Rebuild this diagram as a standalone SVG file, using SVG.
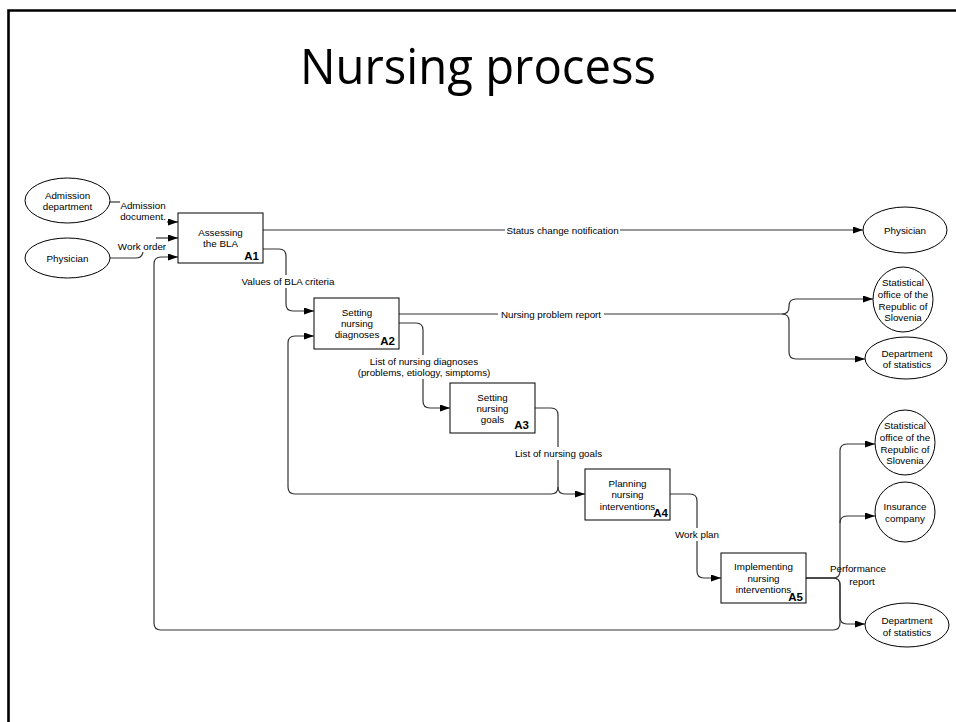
<svg xmlns="http://www.w3.org/2000/svg" width="956" height="722" viewBox="0 0 956 722">
<style>
.t{font-family:"Liberation Sans",Arial,sans-serif;font-size:9.8px;fill:#000;text-anchor:middle}
.id{font-family:"Liberation Sans",Arial,sans-serif;font-size:11.5px;font-weight:bold;fill:#000;text-anchor:end}
.box{fill:#fff;stroke:#000;stroke-width:1}
.ell{fill:#fff;stroke:#000;stroke-width:1}
.c{fill:none;stroke:#333;stroke-width:1.2}
.a{marker-end:url(#arr)}
.bg{fill:#fff}
</style>
<defs>
<marker id="arr" markerUnits="userSpaceOnUse" markerWidth="10" markerHeight="7" refX="10" refY="3.5" orient="auto">
<path d="M0,0 L10,3.5 L0,7 z" fill="#000"/>
</marker>
</defs>
<rect width="956" height="722" fill="#fff"/>
<path d="M8.5,722 V10.5 H956" fill="none" stroke="#000" stroke-width="2.6"/>
<text x="478" y="84" font-family="Open Sans,Lato,sans-serif" font-size="50" text-anchor="middle" textLength="356" lengthAdjust="spacingAndGlyphs">Nursing process</text>

<g id="connectors">
<path class="c" d="M110,202 H120"/>
<path class="c a" d="M167,222 H178"/>
<path class="c" d="M110,258 H136 Q142,258 143,252"/>
<path class="c a" d="M156,238 H178"/>
<path class="c a" d="M263,230 H863"/>
<path class="c a" d="M263,249 H279 Q286,249 286,256 V304 Q286,311 293,311 H314"/>
<path class="c a" d="M399,314 H782 Q789,314 789,307 V306 Q789,299 796,299 H873"/>
<path class="c a" d="M782,314 Q789,314 789,321 V352 Q789,359 796,359 H865"/>
<path class="c a" d="M399,323 H416 Q423,323 423,330 V401 Q423,408 430,408 H450"/>
<path class="c a" d="M535,408 H551 Q558,408 558,415 V487 Q558,494 551,494 H295 Q288,494 288,487 V343 Q288,336 295,336 H314"/>
<path class="c a" d="M558,487 Q558,494 565,494 H585"/>
<path class="c a" d="M670,494 H690 Q697,494 697,501 V571 Q697,578 704,578 H721"/>
<path class="c a" d="M806,578 H833 Q840,578 840,571 V451 Q840,444 847,444 H875"/>
<path class="c a" d="M840,523 Q840,516 847,516 H875"/>
<path class="c a" d="M806,578 H833 Q840,578 840,585 V617 Q840,624 847,624 H865"/>
<path class="c a" d="M806,578 H833 Q840,578 840,585 V623 Q840,630 833,630 H161 Q154,630 154,623 V264 Q154,257 161,257 H178"/>
</g>

<g id="labels">
<text class="t" x="143" y="209">Admission</text>
<text class="t" x="143" y="220">document.</text>
<text class="t" x="142" y="250">Work order</text>
<rect class="bg" x="505" y="223" width="115" height="13"/>
<text class="t" x="562.5" y="233.5">Status change notification</text>
<rect class="bg" x="238" y="275" width="100" height="13"/>
<text class="t" x="288" y="285">Values of BLA criteria</text>
<rect class="bg" x="498" y="307" width="106" height="13"/>
<text class="t" x="551" y="317.5">Nursing problem report</text>
<rect class="bg" x="366" y="355" width="116" height="24"/>
<text class="t" x="424" y="365">List of nursing diagnoses</text>
<text class="t" x="424" y="375.5">(problems, etiology, simptoms)</text>
<rect class="bg" x="513" y="447" width="91" height="13"/>
<text class="t" x="558.5" y="457">List of nursing goals</text>
<rect class="bg" x="672" y="528" width="50" height="13"/>
<text class="t" x="697" y="538">Work plan</text>
<text class="t" x="858" y="572">Performance</text>
<text class="t" x="862" y="585">report</text>
</g>

<g id="A1">
<rect class="box" x="178" y="213" width="85" height="50"/>
<text class="t" x="220.5" y="236">Assessing</text>
<text class="t" x="220.5" y="247">the BLA</text>
<text class="id" x="259" y="260">A1</text>
</g>
<g id="A2">
<rect class="box" x="314" y="298" width="85" height="51"/>
<text class="t" x="357" y="316">Setting</text>
<text class="t" x="357" y="327">nursing</text>
<text class="t" x="357" y="338">diagnoses</text>
<text class="id" x="395" y="345">A2</text>
</g>
<g id="A3">
<rect class="box" x="450" y="383" width="85" height="50"/>
<text class="t" x="492.5" y="401">Setting</text>
<text class="t" x="492.5" y="412">nursing</text>
<text class="t" x="492.5" y="423">goals</text>
<text class="id" x="529" y="429">A3</text>
</g>
<g id="A4">
<rect class="box" x="585" y="469" width="85" height="51"/>
<text class="t" x="627.5" y="487">Planning</text>
<text class="t" x="627.5" y="498">nursing</text>
<text class="t" x="627.5" y="509.5">interventions</text>
<text class="id" x="668" y="517">A4</text>
</g>
<g id="A5">
<rect class="box" x="721" y="553" width="85" height="50"/>
<text class="t" x="763.5" y="570">Implementing</text>
<text class="t" x="763.5" y="582">nursing</text>
<text class="t" x="763.5" y="593">interventions</text>
<text class="id" x="803" y="601">A5</text>
</g>

<g id="admission">
<ellipse class="ell" cx="67.5" cy="200.5" rx="42.5" ry="22.5"/>
<text class="t" x="67.5" y="198.5">Admission</text>
<text class="t" x="67.5" y="210">department</text>
</g>
<g id="physician-in">
<ellipse class="ell" cx="67.5" cy="258" rx="42.5" ry="20"/>
<text class="t" x="67.5" y="261.5">Physician</text>
</g>
<g id="physician-out">
<ellipse class="ell" cx="905" cy="230" rx="42" ry="23"/>
<text class="t" x="905" y="233.5">Physician</text>
</g>
<g id="stat-office-1">
<ellipse class="ell" cx="903" cy="299.5" rx="30" ry="32.5"/>
<text class="t" x="903" y="286">Statistical</text>
<text class="t" x="903" y="298">office of the</text>
<text class="t" x="903" y="310">Republic of</text>
<text class="t" x="903" y="321">Slovenia</text>
</g>
<g id="dept-stat-1">
<ellipse class="ell" cx="906" cy="358" rx="41" ry="21"/>
<text class="t" x="907" y="357">Department</text>
<text class="t" x="907" y="368">of statistics</text>
</g>
<g id="stat-office-2">
<ellipse class="ell" cx="905" cy="442.5" rx="30" ry="32.5"/>
<text class="t" x="905" y="429">Statistical</text>
<text class="t" x="905" y="441">office of the</text>
<text class="t" x="905" y="453">Republic of</text>
<text class="t" x="905" y="464">Slovenia</text>
</g>
<g id="insurance">
<ellipse class="ell" cx="905" cy="512" rx="30" ry="30"/>
<text class="t" x="905" y="510">Insurance</text>
<text class="t" x="905" y="522">company</text>
</g>
<g id="dept-stat-2">
<ellipse class="ell" cx="907" cy="625" rx="42" ry="22"/>
<text class="t" x="907" y="624">Department</text>
<text class="t" x="907" y="635.5">of statistics</text>
</g>
</svg>
